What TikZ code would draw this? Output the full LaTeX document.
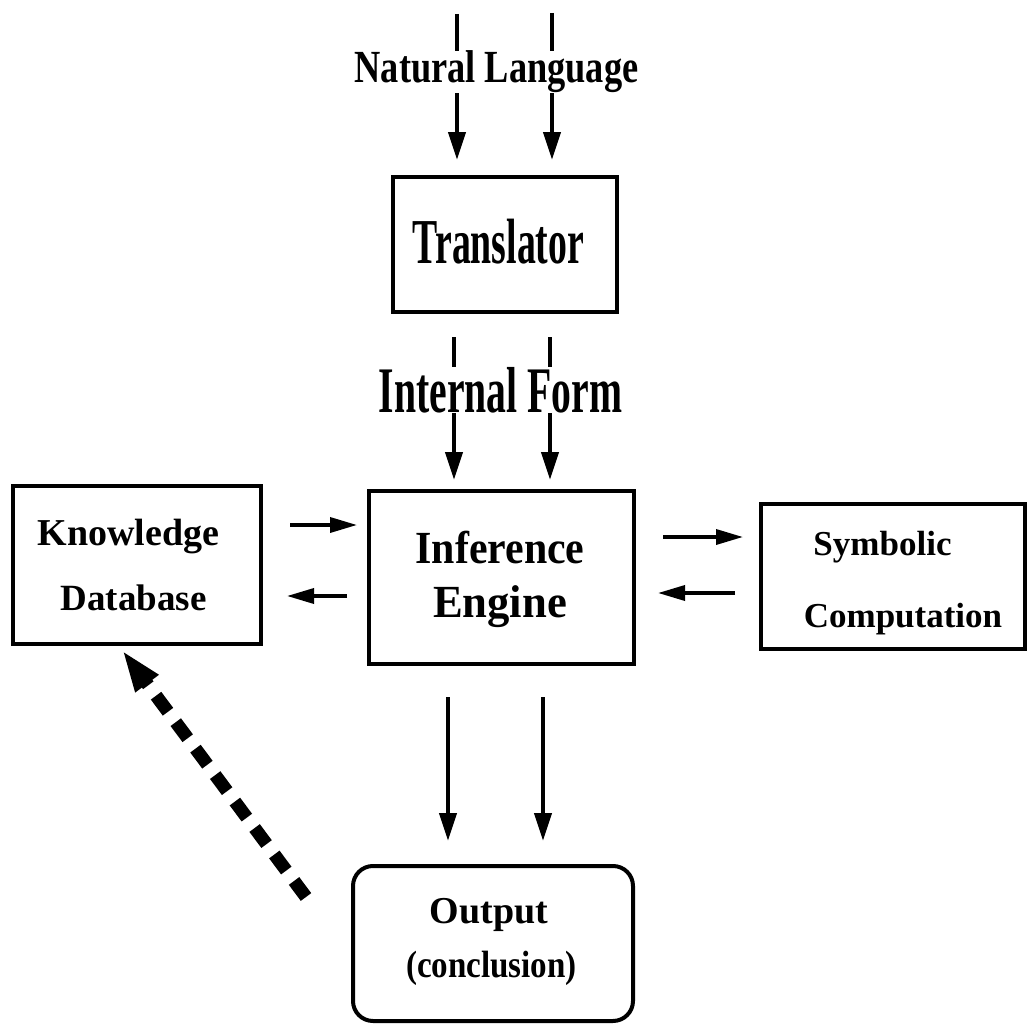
\documentclass[tikz,border=0pt]{standalone}
\usepackage{fontspec}
\setmainfont{Liberation Serif}
\usepackage{graphicx}
\usetikzlibrary{arrows.meta}
\newcommand\lbltxt[3]{\scalebox{#2}[1]{\fontsize{#1}{#1}\selectfont\bfseries #3}}
\begin{document}
\begin{tikzpicture}[x=1pt,y=-1pt,
  boxstyle/.style={draw, line width=4pt, outer sep=0pt, inner sep=0pt},
  arr/.style={line width=4pt, -{Triangle[length=28pt,width=17pt]}},
  harr/.style={line width=3.5pt, -{Triangle[length=27pt,width=15pt]}},
  lbl/.style={anchor=base, inner sep=0pt},
  cutlbl/.style={anchor=base, inner sep=0pt, fill=white}]
\useasboundingbox (0,0) rectangle (1029,1025);

% boxes
\node[boxstyle, minimum width=224pt, minimum height=135pt] (tr) at (505,244.5) {};
\node[boxstyle, minimum width=265pt, minimum height=173pt] (ie) at (501.5,577.5) {};
\node[boxstyle, minimum width=248pt, minimum height=158pt] (kb) at (137,565) {};
\node[boxstyle, minimum width=264pt, minimum height=145pt] (sc) at (893,576.5) {};
\node[boxstyle, rounded corners=20pt, minimum width=280pt, minimum height=155pt] (out) at (493,943.5) {};

% top input arrows
\coordinate (nl1) at (457,14);
\coordinate (nl2) at (552,13);
\draw[arr, shorten >=17pt] (nl1) -- (nl1 |- tr.north);
\draw[arr, shorten >=17pt] (nl2) -- (nl2 |- tr.north);

% translator -> inference engine
\coordinate (if1) at (454,0);
\coordinate (if2) at (550,0);
\draw[arr, shorten <=25pt, shorten >=11pt] (if1 |- tr.south) -- (if1 |- ie.north);
\draw[arr, shorten <=25pt, shorten >=11pt] (if2 |- tr.south) -- (if2 |- ie.north);

% inference engine -> output
\coordinate (oa1) at (448,0);
\coordinate (oa2) at (543,0);
\draw[arr, shorten <=33pt, shorten >=25pt] (oa1 |- ie.south) -- (oa1 |- out.north);
\draw[arr, shorten <=33pt, shorten >=25pt] (oa2 |- ie.south) -- (oa2 |- out.north);

% knowledge <-> inference
\coordinate (r1) at (0,525);
\coordinate (r2) at (0,596);
\draw[harr, shorten <=29pt, shorten >=12pt] (kb.east |- r1) -- (ie.west |- r1);
\draw[harr, shorten <=22pt, shorten >=26pt] (ie.west |- r2) -- (kb.east |- r2);

% inference <-> symbolic
\coordinate (r3) at (0,537);
\coordinate (r4) at (0,593);
\draw[harr, shorten <=29pt, shorten >=18pt] (ie.east |- r3) -- (sc.west |- r3);
\draw[harr, shorten <=26pt, shorten >=24pt] (sc.west |- r4) -- (ie.east |- r4);

% dashed feedback arrow
\coordinate (fbstart) at (306,897);
\coordinate (fbtip) at (122,650);
\draw[line width=13pt, dash pattern=on 20pt off 13pt,
  -{Triangle[length=42pt,width=26pt]}] (fbstart) -- (fbtip);

% labels
\node[cutlbl] (nltxt) at (496.5,83) {\lbltxt{46}{0.79}{Natural Language}};
\node[cutlbl] (iftxt) at (500.5,412) {\lbltxt{65}{0.61}{Internal Form}};
\node[lbl] (trtxt) at (498.5,263) {\lbltxt{64}{0.59}{Translator}};
\node[lbl] (ietxt1) at (500,563) {\lbltxt{46}{0.91}{Inference}};
\node[lbl] (ietxt2) at (500,617) {\lbltxt{46}{0.97}{Engine}};
\node[lbl] (kbtxt1) at (128.5,545) {\lbltxt{38}{1}{Knowledge}};
\node[lbl] (kbtxt2) at (133.5,610) {\lbltxt{37}{1}{Database}};
\node[lbl] (sctxt1) at (882.5,555) {\lbltxt{35}{1}{Symbolic}};
\node[lbl] (sctxt2) at (903,627) {\lbltxt{35}{1}{Computation}};
\node[lbl] (outtxt1) at (489,923) {\lbltxt{38}{1}{Output}};
\node[lbl] (outtxt2) at (491.5,977) {\lbltxt{38}{0.87}{(conclusion)}};
\end{tikzpicture}
\end{document}
